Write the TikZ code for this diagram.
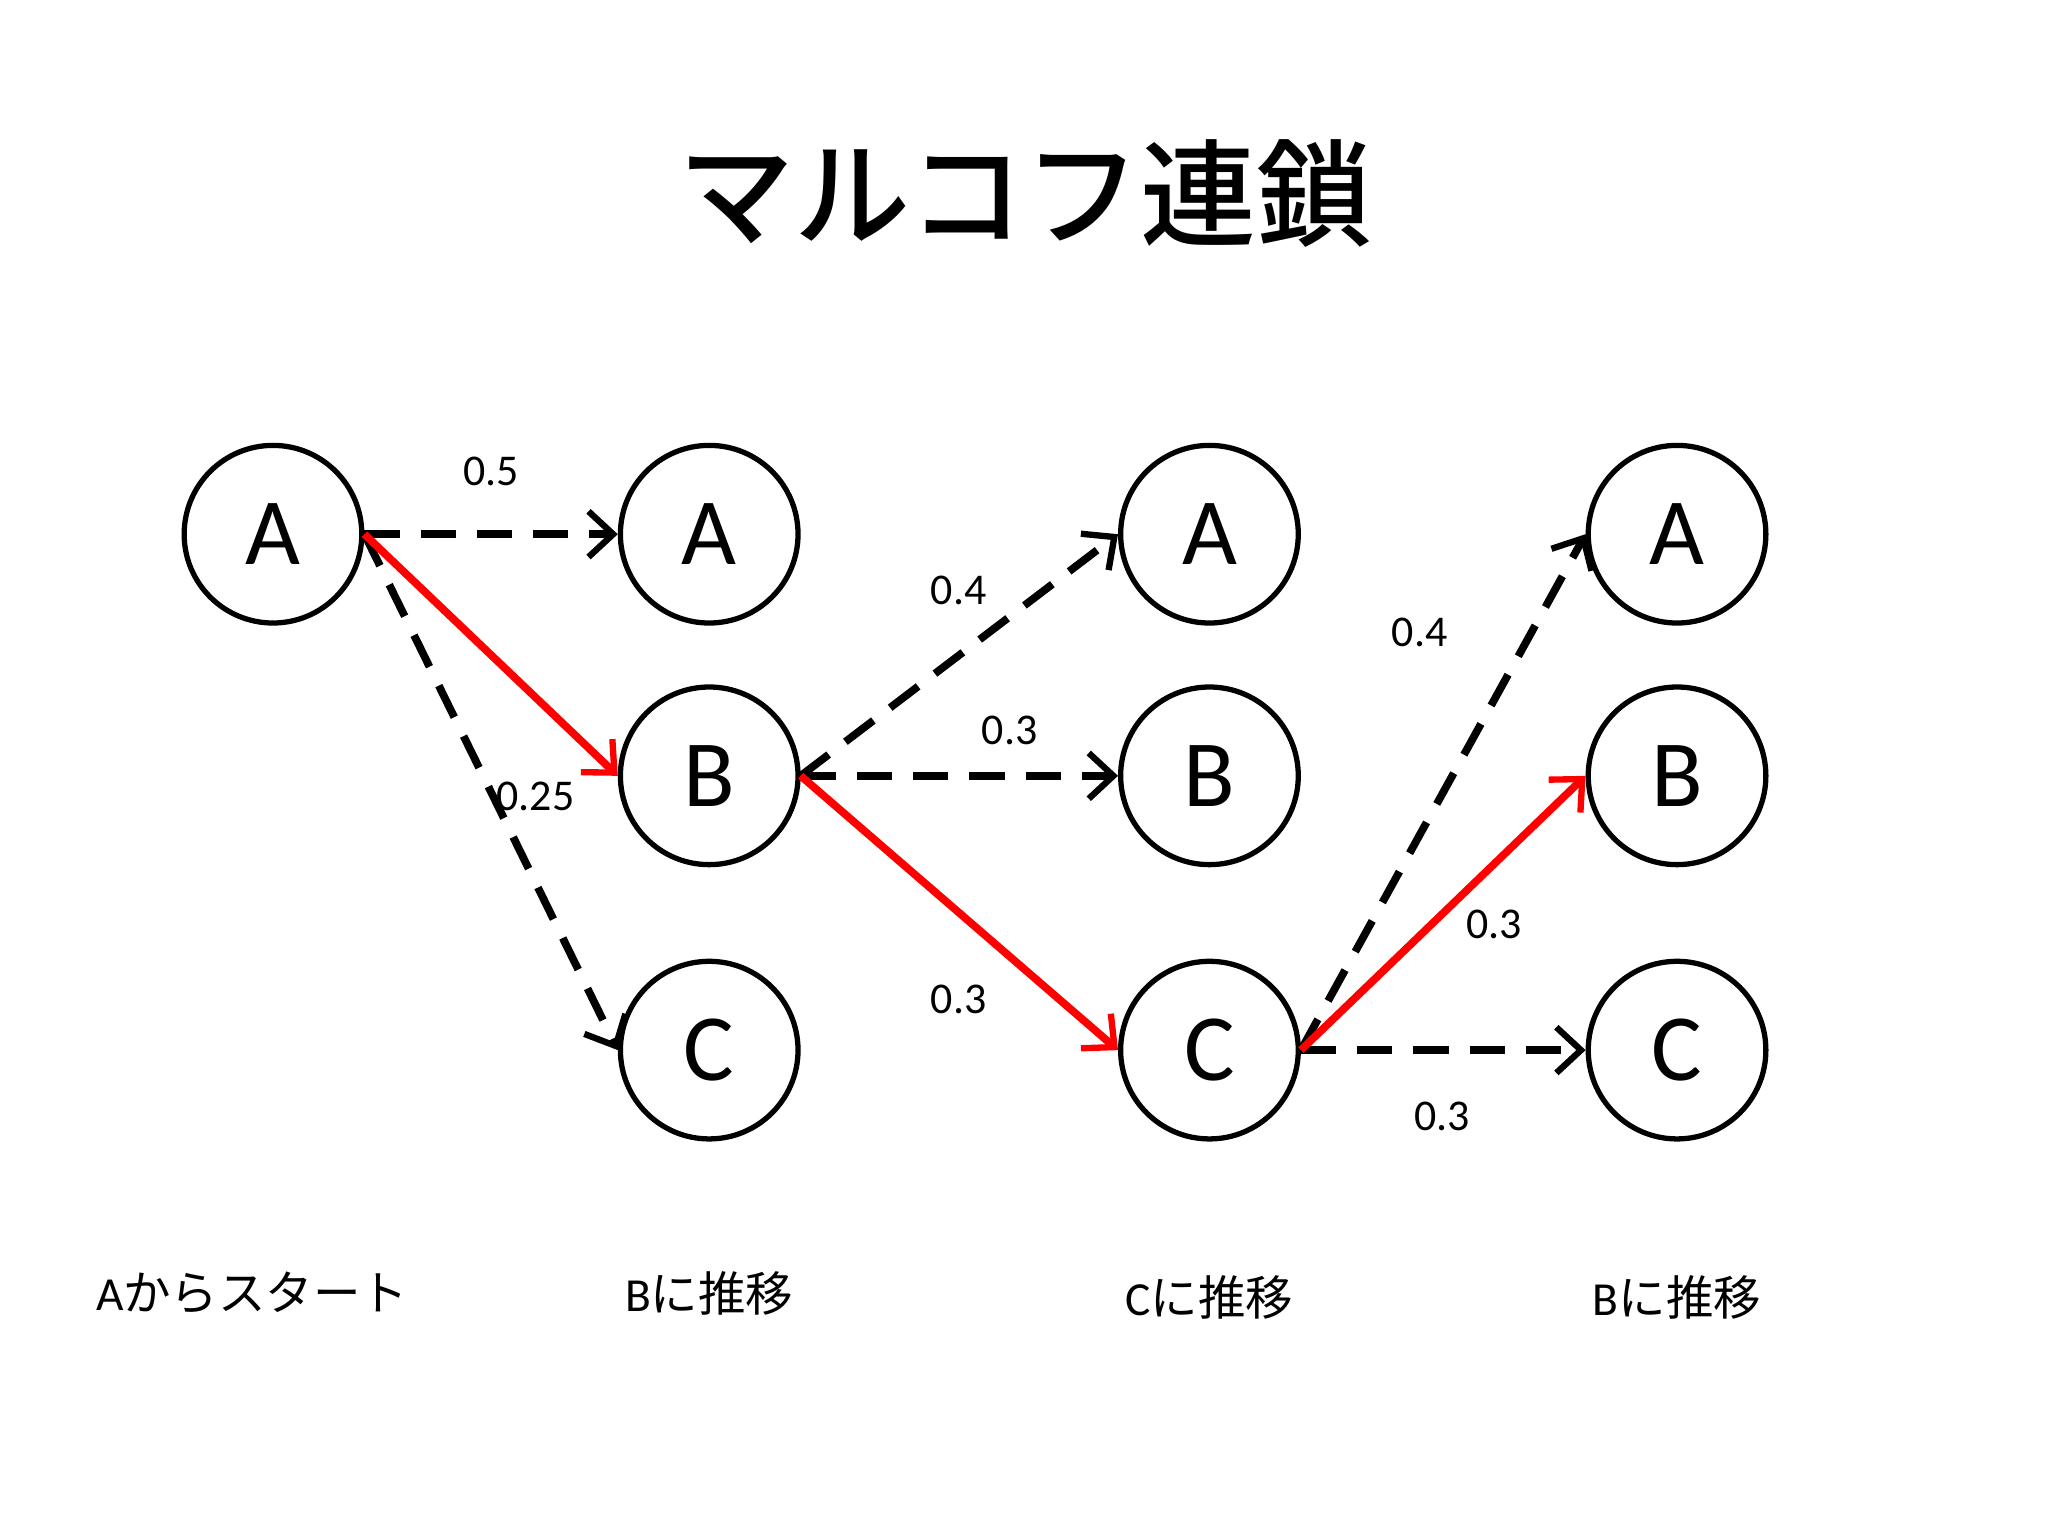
\documentclass[tikz,border=0pt]{standalone}
\usepackage{fontspec}
\setmainfont{Carlito}
\newfontfamily\jp{Noto Sans CJK JP}
\newfontfamily\jpm{Noto Sans CJK JP Medium}
\usetikzlibrary{arrows.meta}
\begin{document}
\begin{tikzpicture}[x=0.01306cm,y=-0.01306cm,
  st/.style={circle,draw,line width=1.5pt,minimum size=136*0.01306cm,inner sep=0pt,font=\fontsize{27}{30}\selectfont},
  dsh/.style={line width=2.2pt,dash pattern=on 10pt off 6pt,-{Straight Barb[length=7pt,width=13pt,line width=1.8pt]}},
  red/.style={line width=2.2pt,draw={rgb,255:red,255;green,0;blue,0},-{Straight Barb[length=7pt,width=13pt,line width=1.8pt]}},
  lb/.style={font=\fontsize{12.5}{14}\selectfont},
  bt/.style={font=\fontsize{13.5}{15}\selectfont}]
\useasboundingbox (0,0) rectangle (1568,1176);
\node[font=\jpm\fontsize{33}{40}\selectfont] (title) at (785,148) {マルコフ連鎖};
\node[st] (a0) at (209,409) {A};
\node[st] (a1) at (543,409) {A};
\node[st] (b1) at (543,594) {B};
\node[st] (c1) at (543,804) {C};
\node[st] (a2) at (926,409) {A};
\node[st] (b2) at (926,594) {B};
\node[st] (c2) at (926,804) {C};
\node[st] (a3) at (1284,409) {A};
\node[st] (b3) at (1284,594) {B};
\node[st] (c3) at (1284,804) {C};
\draw[dsh] (a0.east) -- (a1.west);
\draw[dsh] (a0.east) -- (c1.west);
\draw[red] (a0.east) -- (b1.west);
\draw[dsh] (b1.east) -- (a2.west);
\draw[dsh] (b1.east) -- (b2.west);
\draw[red] (b1.east) -- (c2.west);
\draw[dsh] (c2.east) -- (a3.west);
\draw[dsh] (c2.east) -- (c3.west);
\draw[red] (c2.east) -- (b3.west);
\node[lb] (l1) at (376,361) {0.5};
\node[lb] (l2) at (410,610) {0.25};
\node[lb] (l3) at (734,452) {0.4};
\node[lb] (l4) at (773,559) {0.3};
\node[lb] (l5) at (734,765) {0.3};
\node[lb] (l6) at (1087,484) {0.4};
\node[lb] (l7) at (1144,708) {0.3};
\node[lb] (l8) at (1104,855) {0.3};
\node[bt] (t1) at (193,990) {A{\jp からスタート}};
\node[bt] (t2) at (543,990) {B{\jp に推移}};
\node[bt] (t3) at (926,993) {C{\jp に推移}};
\node[bt] (t4) at (1284,993) {B{\jp に推移}};
\end{tikzpicture}
\end{document}
